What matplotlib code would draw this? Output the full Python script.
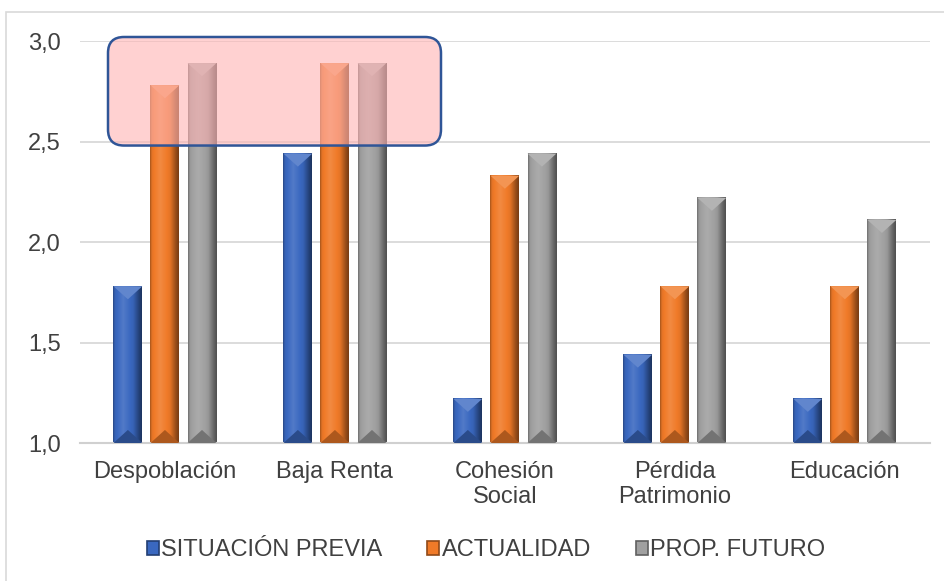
import numpy as np
import matplotlib.pyplot as plt
from matplotlib.colors import to_rgb
from matplotlib.patches import Polygon, Patch, FancyBboxPatch, Rectangle

categories = ['Despoblación', 'Baja Renta', 'Cohesión\nSocial', 'Pérdida\nPatrimonio', 'Educación']
series = ['SITUACIÓN PREVIA', 'ACTUALIDAD', 'PROP. FUTURO']
previa = [1.78, 2.44, 1.22, 1.44, 1.22]
actualidad = [2.78, 2.89, 2.33, 1.78, 1.78]
futuro = [2.89, 2.89, 2.44, 2.22, 2.11]
colors = ['#3A68C0', '#F07A28', '#A0A0A0']
yticks = [1.0, 1.5, 2.0, 2.5, 3.0]

plt.rcParams['font.family'] = ['Liberation Sans', 'DejaVu Sans']
txt = '#404040'

fig = plt.figure(figsize=(9.44, 5.81), dpi=100)
ax = fig.add_axes([0.0847, 0.2375, 0.9003, 0.6919])

w = 0.17
off = 0.218
tri = 0.065


def shade(c, f):
    c = np.array(to_rgb(c))
    if f <= 1:
        return c * f
    return c + (1 - c) * (f - 1)


def draw_bar(xc, h, color):
    x0, x1 = xc - w / 2, xc + w / 2
    t = np.linspace(0, 1, 60)
    prof = np.interp(t, [0, 0.06, 0.35, 0.7, 0.92, 1], [0.7, 0.95, 1.12, 0.95, 0.6, 0.5])
    img = np.array([shade(color, f) for f in prof])[None, :, :]
    ax.imshow(np.clip(img, 0, 1), extent=(x0, x1, 1.0, h), aspect='auto',
              interpolation='bilinear', zorder=2)
    ax.add_patch(Polygon([(x0, h), (x1, h), (xc, h - tri)], closed=True,
                         facecolor=shade(color, 1.2), edgecolor='none', zorder=3))
    ax.add_patch(Polygon([(x0, 1.0), (x1, 1.0), (xc, 1.0 + tri)], closed=True,
                         facecolor=shade(color, 0.72), edgecolor='none', zorder=3))


x = np.arange(len(categories))
for i, vals in enumerate([previa, actualidad, futuro]):
    for xi, v in zip(x, vals):
        draw_bar(xi + (i - 1) * off, v, colors[i])

ax.set_xlim(-0.5, len(categories) - 0.5)
ax.set_ylim(1.0, 3.0)
ax.set_yticks(yticks)
ax.set_yticklabels([f'{v:.1f}'.replace('.', ',') for v in yticks])
ax.set_xticks(x)
ax.set_xticklabels(categories, linespacing=1.15)
ax.tick_params(axis='both', length=0, labelsize=17, colors=txt)
ax.tick_params(axis='y', pad=14)
ax.tick_params(axis='x', pad=13)
ax.grid(axis='y', color='#D9D9D9', linewidth=1.3, zorder=0)
ax.set_axisbelow(True)
for s in ['top', 'right', 'left']:
    ax.spines[s].set_visible(False)
ax.spines['bottom'].set_color('#D0D0D0')
ax.spines['bottom'].set_linewidth(1.5)

# highlight box over the first two groups
fig.canvas.draw()
p0 = ax.transData.transform((-0.335, 2.48))
p1 = ax.transData.transform((1.624, 3.02))
for kw in [dict(facecolor='#FFB3B3', alpha=0.6, edgecolor='none', zorder=5),
           dict(facecolor='none', edgecolor='#2F5597', linewidth=1.8, zorder=6)]:
    ax.add_patch(FancyBboxPatch((p0[0], p0[1]), p1[0] - p0[0], p1[1] - p0[1],
                                boxstyle='round,pad=0,rounding_size=16', transform=None,
                                clip_on=False, **kw))

# outer chart border
fig.patches.append(Rectangle((0.006, -0.01), 1.0, 0.99, transform=fig.transFigure,
                             facecolor='none', edgecolor='#D9D9D9', linewidth=1.2))

handles = [Patch(facecolor=c, edgecolor=shade(c, 0.6), linewidth=1.2) for c in colors]
fig.legend(handles, series, loc='center', bbox_to_anchor=(0.515, 0.053), ncol=3,
           frameon=False, fontsize=17, labelcolor=txt, handlelength=0.5,
           handleheight=0.5, handletextpad=0.1, columnspacing=1.9)

fig.savefig('out.png', dpi=100)
